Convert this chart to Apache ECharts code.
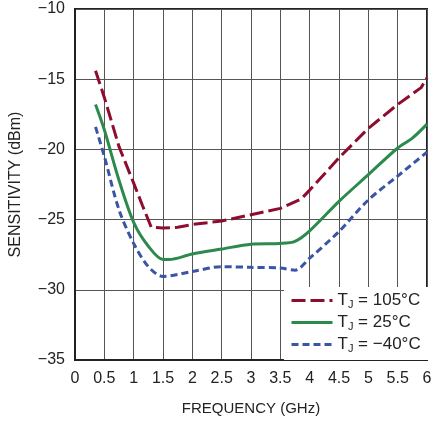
<!DOCTYPE html>
<html>
<head>
<meta charset="utf-8">
<script src="https://cdn.jsdelivr.net/npm/echarts@6/dist/echarts.min.js"></script>
<style>
html,body{margin:0;padding:0;background:#fff;}
#c{width:432px;height:421px;}
</style>
</head>
<body>
<div id="c"></div>
<script>
var xTicks = [0, 0.5, 1, 1.5, 2, 2.5, 3, 3.5, 4, 4.5, 5, 5.5, 6];
var yTicks = [-35, -30, -25, -20, -15, -10];
var seriesNames = ['T_J = 105°C', 'T_J = 25°C', 'T_J = −40°C'];

var freq105 = [0.35, 0.5, 0.75, 1.0, 1.15, 1.3, 1.5, 1.75, 2.0, 2.5, 3.0, 3.5, 3.85, 4.0, 4.5, 5.0, 5.5, 5.75, 5.9, 6.0];
var sens105 = [-14.4, -16.3, -19.8, -22.4, -24.0, -25.55, -25.6, -25.55, -25.35, -25.1, -24.65, -24.2, -23.55, -22.9, -20.6, -18.5, -16.8, -16.05, -15.6, -14.9];

var freq25 = [0.35, 0.5, 0.75, 1.0, 1.25, 1.5, 1.6, 2.0, 2.5, 3.0, 3.5, 3.75, 4.0, 4.5, 5.0, 5.5, 5.75, 6.0];
var sens25 = [-16.8, -18.6, -22.2, -25.2, -26.9, -27.85, -27.85, -27.45, -27.1, -26.75, -26.7, -26.55, -25.8, -23.7, -21.8, -19.9, -19.2, -18.2];

var freqM40 = [0.35, 0.5, 0.75, 1.0, 1.25, 1.5, 2.0, 2.5, 3.0, 3.5, 3.75, 4.0, 4.5, 5.0, 5.5, 6.0];
var sensM40 = [-18.4, -20.5, -24.3, -26.7, -28.35, -29.05, -28.7, -28.35, -28.4, -28.45, -28.6, -27.75, -25.85, -23.6, -21.9, -20.2];

function pairs(xs, ys){ return xs.map(function(x,i){ return [x, ys[i]]; }); }

var FONT = '"Liberation Sans", Arial, sans-serif';
var chart = echarts.init(document.getElementById('c'), null, {renderer:'canvas'});

function legendFmt(name){
  var parts = name.split('_J');
  return '{a|' + parts[0] + '}{s|J}{a|' + parts[1] + '}';
}

chart.setOption({
  animation:false,
  backgroundColor:'#fff',
  grid:{left:75, right:5, top:9, bottom:61, containLabel:false, outerBoundsMode:'none',
        show:true, borderColor:'#222', borderWidth:2},
  xAxis:{
    type:'value', min:0, max:6, interval:0.5,
    name:'FREQUENCY (GHz)', nameLocation:'middle', nameGap:41,
    nameTextStyle:{fontFamily:FONT, fontSize:15, color:'#222'},
    axisLine:{show:true, lineStyle:{color:'#222', width:2}},
    axisTick:{show:false},
    axisLabel:{fontFamily:FONT, fontSize:16, color:'#222', margin:11,
      formatter:function(v){ return String(v); }},
    splitLine:{show:true, lineStyle:{color:'#555', width:1}}
  },
  yAxis:{
    type:'value', min:-35, max:-10, interval:5,
    name:'SENSITIVITY (dBm)', nameLocation:'middle', nameGap:51,
    nameTextStyle:{fontFamily:FONT, fontSize:16, color:'#222'},
    axisLine:{show:true, lineStyle:{color:'#222', width:2}},
    axisTick:{show:false},
    axisLabel:{fontFamily:FONT, fontSize:16, color:'#222', margin:10,
      formatter:function(v){ return String(v).replace('-', '\u2212'); }},
    splitLine:{show:true, lineStyle:{color:'#555', width:1}}
  },
  legend:{
    show:true,
    orient:'vertical', left:284, top:287,
    backgroundColor:'#fff', padding:[5,8,6,6],
    itemWidth:41, itemHeight:12, itemGap:4,
    itemStyle:{opacity:0},
    lineStyle:{width:3},
    data:seriesNames,
    formatter:legendFmt,
    textStyle:{
      color:'#222', fontFamily:FONT, fontSize:17,
      rich:{
        a:{fontFamily:FONT, fontSize:17, color:'#222'},
        s:{fontFamily:FONT, fontSize:11, color:'#222', padding:[8,0,0,0]}
      }
    }
  },
  series:[
    {name:seriesNames[0], type:'line', data:pairs(freq105, sens105), showSymbol:false, smooth:false, symbol:'none',
     lineStyle:{color:'#8e0c2e', width:3, type:[14,5]}, itemStyle:{color:'#8e0c2e'}, z:3},
    {name:seriesNames[1], type:'line', data:pairs(freq25, sens25), showSymbol:false, smooth:0.3, symbol:'none',
     lineStyle:{color:'#2b8a4c', width:3, type:'solid'}, itemStyle:{color:'#2b8a4c'}, z:3},
    {name:seriesNames[2], type:'line', data:pairs(freqM40, sensM40), showSymbol:false, smooth:0.3, symbol:'none',
     lineStyle:{color:'#3a55a6', width:3, type:[7,4]}, itemStyle:{color:'#3a55a6'}, z:3}
  ]
});
</script>
</body>
</html>
